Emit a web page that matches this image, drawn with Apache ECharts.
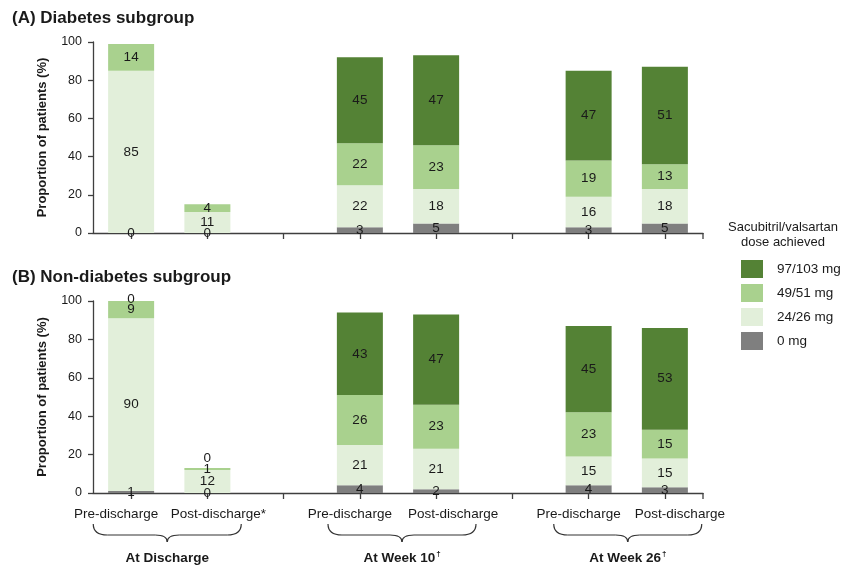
<!DOCTYPE html>
<html>
<head>
<meta charset="utf-8">
<script src="https://cdn.jsdelivr.net/npm/echarts@6/dist/echarts.min.js"></script>
<style>
  html, body { margin: 0; padding: 0; background: #ffffff; }
  #chart { width: 845px; height: 568px; }
</style>
</head>
<body>
<div id="chart"></div>
<script>
// Visit slots along the x axis; empty strings are spacer slots between visit groups
const tickLabels = ['Pre-discharge', 'Post-discharge*', '', 'Pre-discharge', 'Post-discharge', '', 'Pre-discharge', 'Post-discharge'];
const groupLabels = ['At Discharge', 'At Week 10', 'At Week 26'];
const groupMarks = ['', '\u2020', '\u2020'];
const doseNames = ['0 mg', '24/26 mg', '49/51 mg', '97/103 mg'];
const yTicks = [0, 20, 40, 60, 80, 100];

// (A) Diabetes subgroup, % of patients per dose level
const diabDose0 = [0, 0, null, 3, 5, null, 3, 5];
const diabDose24 = [85, 11, null, 22, 18, null, 16, 18];
const diabDose49 = [14, 4, null, 22, 23, null, 19, 13];
const diabDose97 = [null, null, null, 45, 47, null, 47, 51];

// (B) Non-diabetes subgroup, % of patients per dose level
const nonDiabDose0 = [1, 0, null, 4, 2, null, 4, 3];
const nonDiabDose24 = [90, 12, null, 21, 21, null, 15, 15];
const nonDiabDose49 = [9, 1, null, 26, 23, null, 23, 15];
const nonDiabDose97 = [0, 0, null, 43, 47, null, 45, 53];

const doseColors = ['#7f7f7f', '#e2efda', '#a9d18e', '#548235'];
const textColor = '#1a1a1a';
const axisColor = '#3f3f3f';
const FONT = '"Liberation Sans", Arial, sans-serif';

// horizontal shift of each tick label (px), so neighbouring labels do not crowd
const labelShift = [-15, 11, 0, -10, 17, 0, -10, 15];
// horizontal shift of each brace/caption from the middle of its two bars (px)
const groupShift = [-2, 4, 1];

// label nudges for zero-height segments stacked on top of a bar
const labelNudge = { 'B-3-0': -2, 'B-3-1': -10 };

function buildSeries(panelKey, axisIndex, columns) {
  return columns.map(function (values, s) {
    return {
      name: doseNames[s],
      type: 'bar',
      stack: 'dose' + panelKey,
      xAxisIndex: axisIndex,
      yAxisIndex: axisIndex,
      barWidth: 46,
      itemStyle: { color: doseColors[s] },
      label: {
        show: true,
        position: 'inside',
        color: textColor,
        fontFamily: FONT,
        fontSize: 13.5
      },
      data: values.map(function (v, i) {
        const nudge = labelNudge[panelKey + '-' + s + '-' + i];
        if (nudge === undefined || v === null) return v;
        return { value: v, label: { offset: [0, nudge] } };
      })
    };
  });
}

function xAxisFor(gridIndex, showLabels) {
  return {
    type: 'category',
    gridIndex: gridIndex,
    data: tickLabels.map(function (t, i) {
      const shift = labelShift[i];
      return {
        value: 'slot' + i,
        textStyle: { padding: shift >= 0 ? [0, 0, 0, 2 * shift] : [0, -2 * shift, 0, 0] }
      };
    }),
    axisLine: { show: true, lineStyle: { color: axisColor, width: 1.3 } },
    axisTick: { show: true, alignWithLabel: true, length: 6, lineStyle: { color: axisColor, width: 1.3 } },
    axisLabel: {
      show: showLabels,
      interval: 0,
      margin: 14,
      color: textColor,
      fontFamily: FONT,
      fontSize: 13.5,
      formatter: function (v, i) { return tickLabels[i]; }
    },
    splitLine: { show: false }
  };
}

function yAxisFor(gridIndex) {
  return {
    type: 'value',
    gridIndex: gridIndex,
    min: yTicks[0],
    max: yTicks[yTicks.length - 1],
    interval: yTicks[1] - yTicks[0],
    name: 'Proportion of patients (%)',
    nameLocation: 'middle',
    nameRotate: 90,
    nameGap: 44,
    nameTextStyle: { color: textColor, fontFamily: FONT, fontSize: 13, fontWeight: 'bold' },
    axisLine: { show: true, lineStyle: { color: axisColor, width: 1.3 } },
    axisTick: { show: true, length: 5, lineStyle: { color: axisColor, width: 1.3 } },
    axisLabel: { color: textColor, fontFamily: FONT, fontSize: 12.5, margin: 11 },
    splitLine: { show: false }
  };
}

function panelTitle(letter, text, top) {
  return {
    text: '{n|(' + letter + ') }{b|' + text + '}',
    left: 12,
    top: top,
    padding: 0,
    textStyle: {
      rich: {
        n: { fontFamily: FONT, fontSize: 17, color: textColor },
        b: { fontFamily: FONT, fontSize: 17, fontWeight: 'bold', color: textColor }
      }
    }
  };
}

const option = {
  animation: false,
  backgroundColor: '#ffffff',
  title: [
    panelTitle('A', 'Diabetes subgroup', 10),
    panelTitle('B', 'Non-diabetes subgroup', 269),
    {
      text: 'Sacubitril/valsartan\ndose achieved',
      left: 783,
      top: 220,
      padding: 0,
      textAlign: 'center',
      textStyle: { fontFamily: FONT, fontSize: 13, fontWeight: 'normal', color: textColor, lineHeight: 15 }
    }
  ],
  legend: {
    orient: 'vertical',
    left: 736,
    top: 255,
    itemWidth: 22,
    itemHeight: 18,
    itemGap: 6,
    icon: 'rect',
    data: doseNames.slice().reverse(),
    textStyle: { fontFamily: FONT, fontSize: 13.5, color: textColor, padding: [0, 0, 0, 9] },
    selectedMode: false
  },
  grid: [
    { left: 93, top: 42, width: 610, height: 191 },
    { left: 93, top: 301, width: 610, height: 192 }
  ],
  xAxis: [xAxisFor(0, false), xAxisFor(1, true)],
  yAxis: [yAxisFor(0), yAxisFor(1)],
  series: buildSeries('A', 0, [diabDose0, diabDose24, diabDose49, diabDose97])
    .concat(buildSeries('B', 1, [nonDiabDose0, nonDiabDose24, nonDiabDose49, nonDiabDose97]))
};

const chart = echarts.init(document.getElementById('chart'), null, { renderer: 'canvas' });
chart.setOption(option);

// Axis end ticks, braces and visit-group captions, placed from the axis scales
const px = function (i) { return chart.convertToPixel({ xAxisIndex: 1 }, i); };
const band = px(1) - px(0);
const xEnd = px(tickLabels.length - 1) + band / 2;
const baseA = chart.convertToPixel({ yAxisIndex: 0 }, 0);
const baseB = chart.convertToPixel({ yAxisIndex: 1 }, 0);

const braceStyle = { fill: null, stroke: '#333333', lineWidth: 1.2 };

// a horizontal curly brace built from curve and line pieces
function brace(cx, half, y0) {
  const x1 = cx - half, x2 = cx + half, y1 = y0 + 11, y2 = y0 + 18;
  const curve = function (ax, ay, bx, by, qx, qy) {
    return { type: 'bezierCurve', shape: { x1: ax, y1: ay, x2: bx, y2: by, cpx1: qx, cpy1: qy }, style: braceStyle };
  };
  const seg = function (ax, bx) {
    return { type: 'line', shape: { x1: ax, y1: y1, x2: bx, y2: y1 }, style: braceStyle };
  };
  return [
    curve(x1, y0, x1 + 14, y1, x1, y1),
    seg(x1 + 14, cx - 12),
    curve(cx - 12, y1, cx, y2, cx, y1),
    curve(cx, y2, cx + 12, y1, cx, y1),
    seg(cx + 12, x2 - 14),
    curve(x2 - 14, y1, x2, y0, x2, y1)
  ];
}

const graphics = [];
[baseA, baseB].forEach(function (yb) {
  graphics.push({
    type: 'line',
    shape: { x1: xEnd, y1: yb, x2: xEnd, y2: yb + 6 },
    style: { stroke: axisColor, lineWidth: 1.3 }
  });
});
groupLabels.forEach(function (g, k) {
  const cx = (px(3 * k) + px(3 * k + 1)) / 2 + groupShift[k];
  brace(cx, 74, 524).forEach(function (el) { graphics.push(el); });
  graphics.push({
    type: 'text',
    x: cx,
    y: 558,
    style: {
      text: '{b|' + g + '}' + (groupMarks[k] ? '{s|' + groupMarks[k] + '}' : ''),
      align: 'center',
      verticalAlign: 'middle',
      rich: {
        b: { fontFamily: FONT, fontSize: 13.5, fontWeight: 'bold', fill: textColor },
        s: { fontFamily: FONT, fontSize: 8, fontWeight: 'bold', fill: textColor, verticalAlign: 'top', padding: [0, 0, 8, 1] }
      }
    }
  });
});
chart.setOption({ graphic: graphics });
</script>
</body>
</html>
